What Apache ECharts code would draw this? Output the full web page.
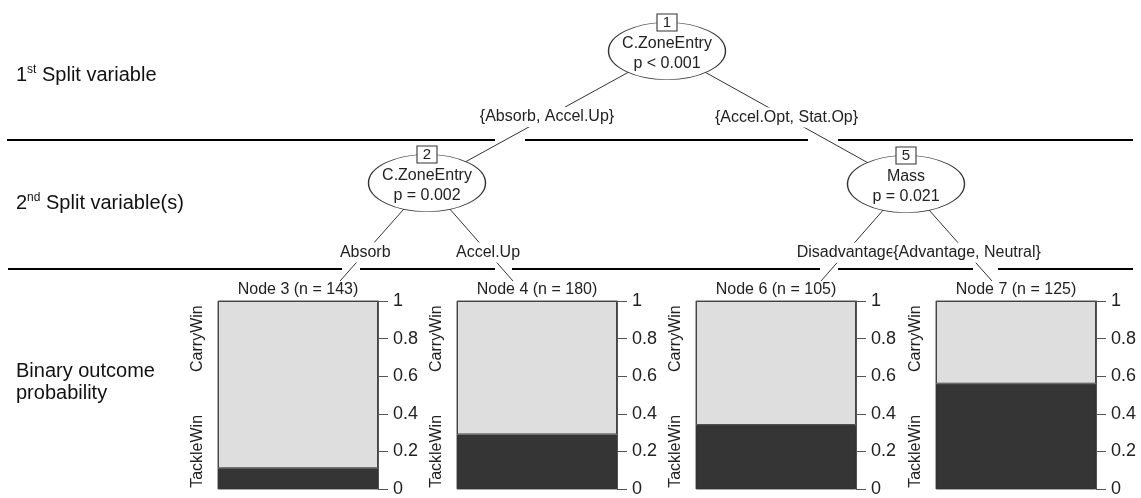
<!DOCTYPE html>
<html><head><meta charset="utf-8">
<script src="https://cdn.jsdelivr.net/npm/echarts@6/dist/echarts.min.js"></script>
<style>html,body{margin:0;padding:0;background:#fff}#c{width:1141px;height:498px}</style>
</head><body><div id="c"></div>
<script>
// ---- data ----
const innerIds = [1, 2, 5];
const innerVars = ['C.ZoneEntry', 'C.ZoneEntry', 'Mass'];
const innerP = ['p < 0.001', 'p = 0.002', 'p = 0.021'];
const edgeFrom = [1, 1, 2, 2, 5, 5];
const edgeTo = [2, 5, 3, 4, 6, 7];
const edgeLabels = ['{Absorb, Accel.Up}', '{Accel.Opt, Stat.Op}', 'Absorb', 'Accel.Up', 'Disadvantage', '{Advantage, Neutral}'];
const terminalIds = [3, 4, 6, 7];
const terminalN = [143, 180, 105, 125];
const outcomeClasses = ['TackleWin', 'CarryWin'];
const tackleWin = [0.11, 0.29, 0.34, 0.56];
const carryWin = [0.89, 0.71, 0.66, 0.44];
const probTicks = [0, 0.2, 0.4, 0.6, 0.8, 1];
const levelLabels = ['1{sup|st} Split variable', '2{sup|nd} Split variable(s)', 'Binary outcome\nprobability'];

// ---- layout (pixel units of overlay grid) ----
const FONT = "'Liberation Sans', Arial, Helvetica, sans-serif";
const W = 1141, H = 498;
const nodePos = {1: [667, 51], 2: [427, 183], 5: [906, 184], 3: [340, 281], 4: [513, 281], 6: [821, 281], 7: [992, 281]};
const ellipseSize = [117, 57];
const boxSize = [20, 17];
const panelLeft = [218, 457, 696, 936], panelW = 160, panelTop = 301, panelH = 188;
const levelY = [75, 203, 382];
const sepSegments = [
  [[7, 140], [495, 140]], [[525, 140], [808, 140]], [[838, 140], [1133, 140]],
  [[8, 269], [342, 269]], [[360, 269], [495, 269]], [[512, 269], [820, 269]], [[838, 269], [973, 269]], [[998, 269], [1133, 269]]
];

const grids = [], xAxes = [], yAxes = [], series = [];
terminalIds.forEach((id, i) => {
  grids.push({left: panelLeft[i], top: panelTop, width: panelW, height: panelH, show: true, borderColor: '#555', borderWidth: 1});
  xAxes.push({type: 'category', gridIndex: i, position: 'top', data: ['Node ' + id + ' (n = ' + terminalN[i] + ')'],
    axisLine: {show: false}, axisTick: {show: false},
    axisLabel: {interval: 0, margin: 3, fontSize: 16, color: '#222', fontFamily: FONT}});
  yAxes.push({type: 'value', gridIndex: i, position: 'right', min: 0, max: 1, interval: 0.2,
    splitLine: {show: false},
    axisLine: {show: true, lineStyle: {color: '#555', width: 1}},
    axisTick: {show: true, length: 10, lineStyle: {color: '#555'}},
    axisLabel: {margin: 15, fontSize: 18, color: '#222', fontFamily: FONT, showMinLabel: true, showMaxLabel: true,
      formatter: v => { const t = probTicks.find(p => Math.abs(p - v) < 1e-6); return t === undefined ? '' : String(t); }}});
  yAxes.push({type: 'value', gridIndex: i, position: 'left', min: 0, max: 1, interval: 0.2,
    splitLine: {show: false}, axisLine: {show: false}, axisTick: {show: false},
    axisLabel: {rotate: 90, margin: 12, fontSize: 16, color: '#222', fontFamily: FONT,
      formatter: v => Math.abs(v - 0.2) < 1e-6 ? outcomeClasses[0] : (Math.abs(v - 0.8) < 1e-6 ? outcomeClasses[1] : '')}});
  series.push({type: 'bar', xAxisIndex: i, yAxisIndex: 2 * i, stack: 's' + i, name: outcomeClasses[0], barWidth: '100%',
    data: [tackleWin[i]], itemStyle: {color: '#353535', borderColor: '#333', borderWidth: 1}, silent: true, animation: false});
  series.push({type: 'bar', xAxisIndex: i, yAxisIndex: 2 * i, stack: 's' + i, name: outcomeClasses[1], barWidth: '100%',
    data: [carryWin[i]], itemStyle: {color: '#dedede', borderColor: '#444', borderWidth: 1}, silent: true, animation: false});
});

// overlay grid for the tree diagram
const OV = terminalIds.length;
grids.push({left: 0, top: 0, width: W, height: H, show: false});
xAxes.push({type: 'value', gridIndex: OV, min: 0, max: W, show: false});
yAxes.push({type: 'value', gridIndex: OV, min: 0, max: H, inverse: true, show: false});
const OVY = yAxes.length - 1;

series.push({type: 'lines', coordinateSystem: 'cartesian2d', xAxisIndex: OV, yAxisIndex: OVY, z: 1, silent: true,
  lineStyle: {color: '#333', width: 1, opacity: 1},
  data: edgeFrom.map((f, i) => ({coords: [nodePos[f], nodePos[edgeTo[i]]]}))});
series.push({type: 'lines', coordinateSystem: 'cartesian2d', xAxisIndex: OV, yAxisIndex: OVY, z: 1, silent: true,
  lineStyle: {color: '#000', width: 2, opacity: 1},
  data: sepSegments.map(s => ({coords: s}))});
series.push({type: 'scatter', xAxisIndex: OV, yAxisIndex: OVY, z: 2, silent: true, clip: false,
  symbolSize: 1, itemStyle: {color: 'rgba(0,0,0,0)', opacity: 1},
  data: edgeFrom.map((f, i) => {
    const a = nodePos[f], b = nodePos[edgeTo[i]];
    const t = innerIds.includes(edgeTo[i]) ? 0.5 : 0.71;
    return [a[0] + (b[0] - a[0]) * t, a[1] + (b[1] - a[1]) * t];
  }),
  label: {show: true, position: 'inside', fontSize: 16, color: '#222', fontFamily: FONT, backgroundColor: '#fff', padding: [2, 1],
    formatter: p => edgeLabels[p.dataIndex]}});
series.push({type: 'scatter', xAxisIndex: OV, yAxisIndex: OVY, z: 3, silent: true, clip: false,
  symbol: 'path://M0,1 A1,1 0 1,1 2,1 A1,1 0 1,1 0,1 Z', symbolSize: ellipseSize,
  itemStyle: {color: '#fff', borderColor: '#333', borderWidth: 1, opacity: 1},
  data: innerIds.map(id => nodePos[id]),
  label: {show: true, position: 'inside', offset: [0, 3], fontSize: 16, lineHeight: 20, color: '#222', fontFamily: FONT,
    formatter: p => innerVars[p.dataIndex] + '\n' + innerP[p.dataIndex]}});
series.push({type: 'scatter', xAxisIndex: OV, yAxisIndex: OVY, z: 4, silent: true, clip: false,
  symbol: 'rect', symbolSize: boxSize,
  itemStyle: {color: '#fff', borderColor: '#333', borderWidth: 1, opacity: 1},
  data: innerIds.map(id => [nodePos[id][0], nodePos[id][1] - ellipseSize[1] / 2]),
  label: {show: true, position: 'inside', fontSize: 15, color: '#222', fontFamily: FONT,
    formatter: p => String(innerIds[p.dataIndex])}});

const chart = echarts.init(document.getElementById('c'), null, {renderer: 'canvas'});
chart.setOption({
  animation: false,
  backgroundColor: '#fff',
  grid: grids, xAxis: xAxes, yAxis: yAxes, series: series,
  graphic: levelLabels.map((t, i) => ({
    type: 'text', x: 16, y: levelY[i], silent: true,
    style: {text: t, fontSize: 20, lineHeight: 22, fontFamily: FONT, fill: '#111', verticalAlign: 'middle', align: 'left',
      rich: {sup: {fontSize: 12, lineHeight: 12, verticalAlign: 'top', fill: '#111', fontFamily: FONT}}}
  }))
});
</script>
</body></html>
